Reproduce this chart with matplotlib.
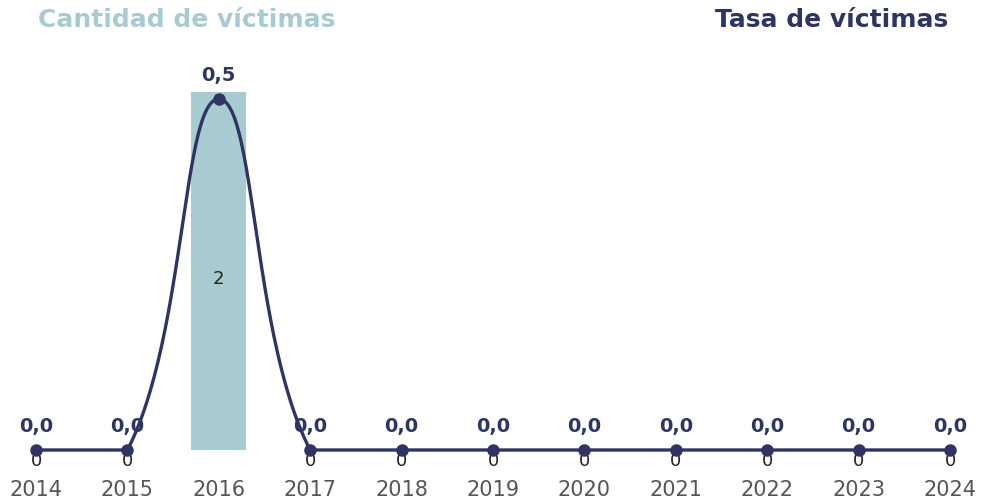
import numpy as np
import matplotlib
matplotlib.use("Agg")
import matplotlib.pyplot as plt

years = [2014, 2015, 2016, 2017, 2018, 2019, 2020, 2021, 2022, 2023, 2024]
counts = [0, 0, 2, 0, 0, 0, 0, 0, 0, 0, 0]
rates = [0.0, 0.0, 0.5, 0.0, 0.0, 0.0, 0.0, 0.0, 0.0, 0.0, 0.0]

BAR_C = "#A8CBD2"
LINE_C = "#2E3562"
plt.rcParams['font.family'] = ['DejaVu Sans']


def spline_path(axis, x, y, tension=0.4, n=60):
    """Chart.js-style cardinal spline computed in pixel space, with control points capped
    to the plotting area."""
    pts = axis.transData.transform(np.column_stack([x, y]).astype(float))
    bbox = axis.bbox
    ymin_px, ymax_px = bbox.y0, bbox.y1
    N = len(pts)
    prevc = [None] * N
    nextc = [None] * N
    for i in range(N):
        cur = pts[i]
        prv = pts[i - 1] if i > 0 else cur
        nxt = pts[i + 1] if i < N - 1 else cur
        d01 = np.hypot(*(cur - prv))
        d12 = np.hypot(*(nxt - cur))
        tot = d01 + d12
        s01 = d01 / tot if tot else 0
        s12 = d12 / tot if tot else 0
        fa = tension * s01
        fb = tension * s12
        pc = cur - fa * (nxt - prv)
        nc = cur + fb * (nxt - prv)
        pc[1] = min(max(pc[1], ymin_px), ymax_px)
        nc[1] = min(max(nc[1], ymin_px), ymax_px)
        prevc[i] = pc
        nextc[i] = nc
    t = np.linspace(0, 1, n)[:, None]
    segs = []
    for i in range(N - 1):
        P0, P1, P2, P3 = pts[i], nextc[i], prevc[i + 1], pts[i + 1]
        seg = ((1 - t) ** 3) * P0 + 3 * ((1 - t) ** 2) * t * P1 + 3 * (1 - t) * t ** 2 * P2 + t ** 3 * P3
        segs.append(seg)
    allp = np.vstack(segs)
    data = axis.transData.inverted().transform(allp)
    return data[:, 0], data[:, 1]


fig = plt.figure(figsize=(9.82, 4.99), dpi=100)
W, H = 982, 499
ax = fig.add_axes([0, 49 / H, 1, 358 / H])
spacing = (950 - 36) / 10
ax.set_xlim(2014 - 36 / spacing, 2024 + (W - 950) / spacing)
ax.set_ylim(0, 2)
ax.bar(years, counts, width=0.6, color=BAR_C, zorder=1)
for x, c in zip(years, counts):
    if c > 0:
        ax.annotate(str(c), (x, c / 2), xytext=(0, -6), textcoords="offset points",
                    ha="center", va="center", fontsize=13, color="#222222", zorder=5)
    else:
        ax.annotate(str(c), (x, 0), xytext=(0, -8), textcoords="offset points",
                    ha="center", va="center", fontsize=13, color="#222222", zorder=5,
                    annotation_clip=False)
ax.axis("off")

ax2 = ax.twinx()
ax2.set_ylim(0, 0.5 * 358 / 351)
ax2.set_xlim(ax.get_xlim())
sx, sy = spline_path(ax2, years, rates)
ax2.plot(sx, sy, color=LINE_C, lw=2.4, zorder=3, solid_capstyle="round", clip_on=False)
ax2.plot(years, rates, "o", color=LINE_C, ms=8, zorder=4, clip_on=False)
for x, r in zip(years, rates):
    ax2.annotate(f"{r:.1f}".replace(".", ","), (x, r), xytext=(0, 10), textcoords="offset points",
                 ha="center", va="bottom", fontsize=14, fontweight="bold", color=LINE_C, zorder=6,
                 annotation_clip=False)
ax2.axis("off")

for x in years:
    xf = (36 + (x - 2014) * spacing) / W
    fig.text(xf, 1 - 490 / H, str(x), ha="center", va="center", fontsize=15, color="#555555")

fig.text(38 / W, 1 - 20 / H, "Cantidad de víctimas", ha="left", va="center", fontsize=18,
         fontweight="bold", color=BAR_C)
fig.text(948 / W, 1 - 20 / H, "Tasa de víctimas", ha="right", va="center", fontsize=18,
         fontweight="bold", color=LINE_C)

fig.savefig("out.png", dpi=100)
